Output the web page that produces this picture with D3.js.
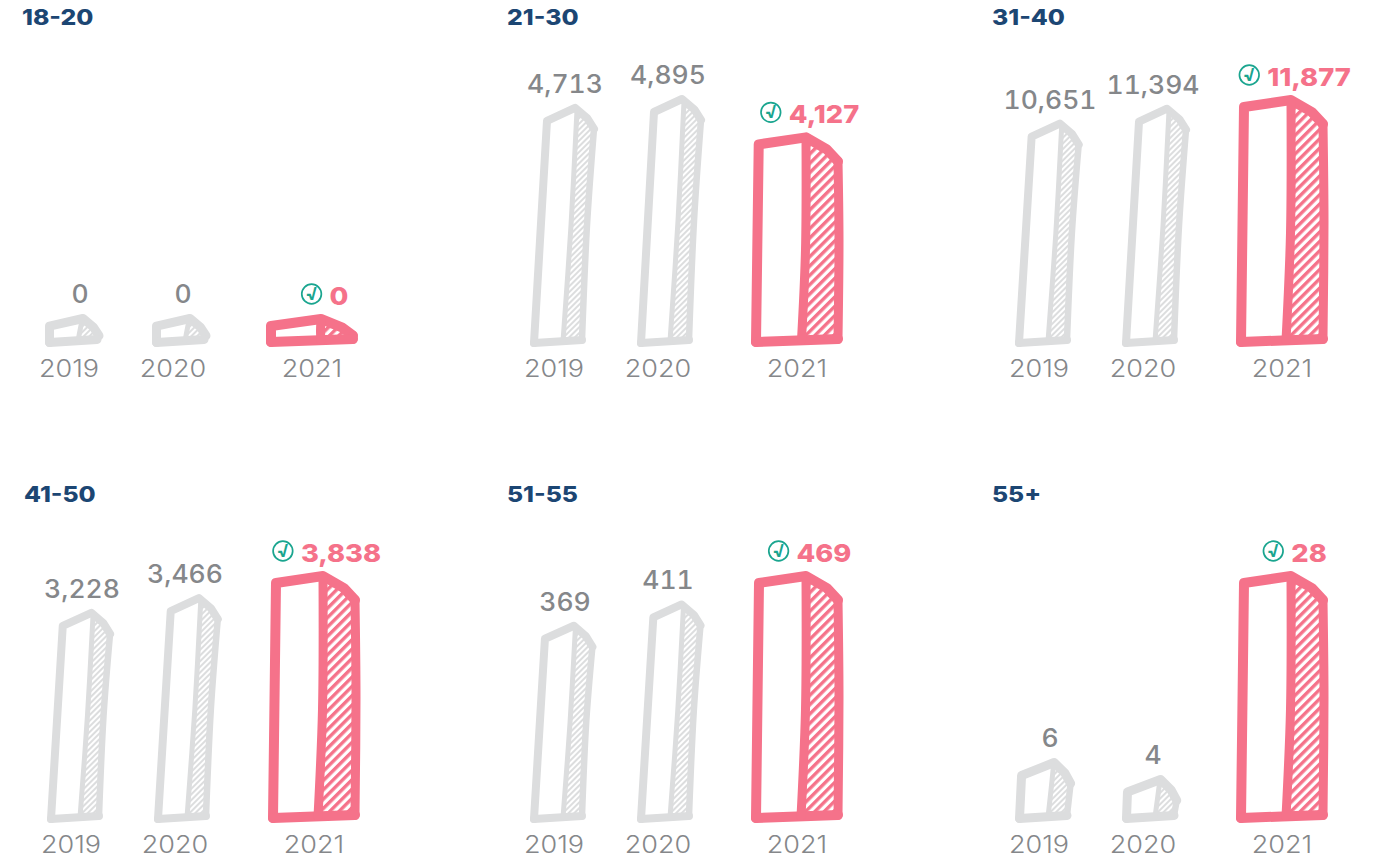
<!DOCTYPE html>
<html><head><meta charset="utf-8">
<script src="https://cdn.jsdelivr.net/npm/d3@7"></script>
<style>html,body{margin:0;background:#fff}svg{display:block}text{font-family:Inter,"Noto Sans",sans-serif}</style>
</head><body><svg id="c" width="1380" height="860"></svg>
<script>
const groups = ["18-20","21-30","31-40","41-50","51-55","55+"];
const years = ["2019","2020","2021"];
const values2019 = [0,4713,10651,3228,369,6];
const values2020 = [0,4895,11394,3466,411,4];
const values2021 = [0,4127,11877,3838,469,28];

const GREY="#dcddde", PINK="#f5728a", TEXT="#85878a", NAVY="#1c4673", TEAL="#1aa58f";
const svg=d3.select("#c");
const defs=svg.append("defs");
function hatch(id,col,lw,per){
  const p=defs.append("pattern").attr("id",id).attr("patternUnits","userSpaceOnUse")
    .attr("width",per).attr("height",per).attr("patternTransform","rotate(45)");
  p.append("rect").attr("width",lw).attr("height",per).attr("fill",col);
}
hatch("hGrey",GREY,2,4);
hatch("hPink",PINK,3.4,6.6);

const colX=d3.scaleOrdinal().domain([0,1,2]).range([22,507,992]);
const rowY=d3.scaleOrdinal().domain([0,1]).range([347,823]);
const yearX=d3.scaleOrdinal().domain(years).range([23,130,244]);
const yearLabelDx=d3.scaleOrdinal().domain(years).range([24,21,46]);
const valueLabelDx=d3.scaleOrdinal().domain(years).range([35,31,59]);
const line=d3.line().curve(d3.curveLinear);
const soft=d3.line().curve(d3.curveCatmullRom.alpha(0.5));
const widen=(sel,k)=>sel.attr("textLength",sel.node().getComputedTextLength()*k).attr("lengthAdjust","spacingAndGlyphs");

function bar(g,x0,base,h,hi){
  const t=Math.min(1,Math.max(0,(h-33)/200));
  const sw=hi?10:(t<0.2?9:8), s=sw/2;
  const hh=h-sw;
  const b=base-s, top=b-hh;
  const L=x0+s;
  const lean=hi?3*t:13*t;
  const drop=Math.min(hi?7:13,hh*0.32);
  const sh=Math.min(hi?24:21,hh*0.72);
  const pk=hi?[x0+55,top]:[x0+38+7*t,top];
  const tl=[L+lean,top+drop];
  const sr=hi?[x0+87,top+sh]:[x0+54+10*t,top+sh];
  const sm=[pk[0]+(sr[0]-pk[0])*0.65,top+sh*0.5];
  const br=hi?[x0+87,b-3]:[x0+52,b-3];
  const bl=[L,b];
  const tall=h>100;
  const mid=hi?[x0+88,b-hh*0.5]:[x0+52+5*t,b-hh*0.5];
  const dTop=hi?[pk[0],top+1]:[x0+37+10*t,top+2];
  const dMid=hi?[pk[0]-0.5,b-hh*0.45]:[x0+35+6*t,b-hh*0.5];
  const dBot=hi?[x0+55-5*t,b-1.5]:[x0+33,b-1.5];
  const right=tall?[sr,mid,br]:[sr,br];
  g.append("path").attr("d",line([bl,tl,pk,sm,sr,...right.slice(1)])+"Z").attr("fill","#fff");
  g.append("path").attr("d",line([dTop,sm,sr,...right.slice(1),dBot,dMid])+"Z").attr("fill",`url(#${hi?"hPink":"hGrey"})`);
  const col=hi?PINK:GREY;
  const st=p=>p.attr("fill","none").attr("stroke",col).attr("stroke-linejoin","round").attr("stroke-linecap","round");
  st(g.append("path").attr("d",line([bl,tl,pk,sm,sr])).attr("stroke-width",sw));
  st(g.append("path").attr("d",tall?soft(right):line(right)).attr("stroke-width",hi?9:6.5));
  st(g.append("path").attr("d",line([br,[(bl[0]+br[0])/2,b-1.5],bl])).attr("stroke-width",sw));
  st(g.append("path").attr("d",soft([dTop,dMid,dBot])).attr("stroke-width",hi?9:5));
}

groups.forEach((name,i)=>{
  const col=i%3,row=Math.floor(i/3);
  const px=colX(col)+(i===3?2:0), base=rowY(row);
  const vals=[values2019[i],values2020[i],values2021[i]];
  const y=d3.scaleLinear().domain([0,d3.max(vals)||1]).range([14,252]);
  const g=svg.append("g");
  widen(g.append("text").attr("x",px).attr("y",row?502:25).attr("font-size",21.5).attr("font-weight",800)
    .attr("fill",NAVY).text(name),1.15);
  years.forEach((yr,j)=>{
    const hi=j===2;
    const x0=px+yearX(yr);
    const h=Math.max(y(vals[j]),33);
    bar(g,x0,base,h,hi);
    widen(g.append("text").attr("x",x0+yearLabelDx(yr)).attr("y",base+30).attr("text-anchor","middle")
      .attr("font-size",23.5).attr("font-weight",300).attr("fill",TEXT).text(yr),1.15);
    const fv=d3.format(",")(vals[j]);
    if(!hi){
      const ly=base-h-11;
      widen(g.append("text").attr("x",x0+valueLabelDx(yr)).attr("y",ly).attr("text-anchor","middle")
        .style("font-variant-numeric","tabular-nums")
        .attr("font-size",25).attr("font-weight",500).attr("fill",TEXT).text(fv),1.06);
    } else {
      const ly=base-h-9;
      const tx=g.append("text").attr("y",ly).attr("font-size",25).attr("font-weight",800).attr("fill",PINK).text(fv);
      const tw=tx.node().getComputedTextLength()*1.09;
      widen(tx,1.09);
      const start=x0+valueLabelDx(yr)-(tw+28)/2;
      tx.attr("x",start+28);
      g.append("circle").attr("cx",start+10).attr("cy",ly-11).attr("r",9.8).attr("fill","#fff").attr("stroke",TEAL).attr("stroke-width",1.7);
      g.append("text").attr("x",start+10).attr("y",ly-5).attr("text-anchor","middle").attr("font-size",18).attr("font-weight",800).attr("fill",TEAL).text("√");
    }
  });
});
</script></body></html>
